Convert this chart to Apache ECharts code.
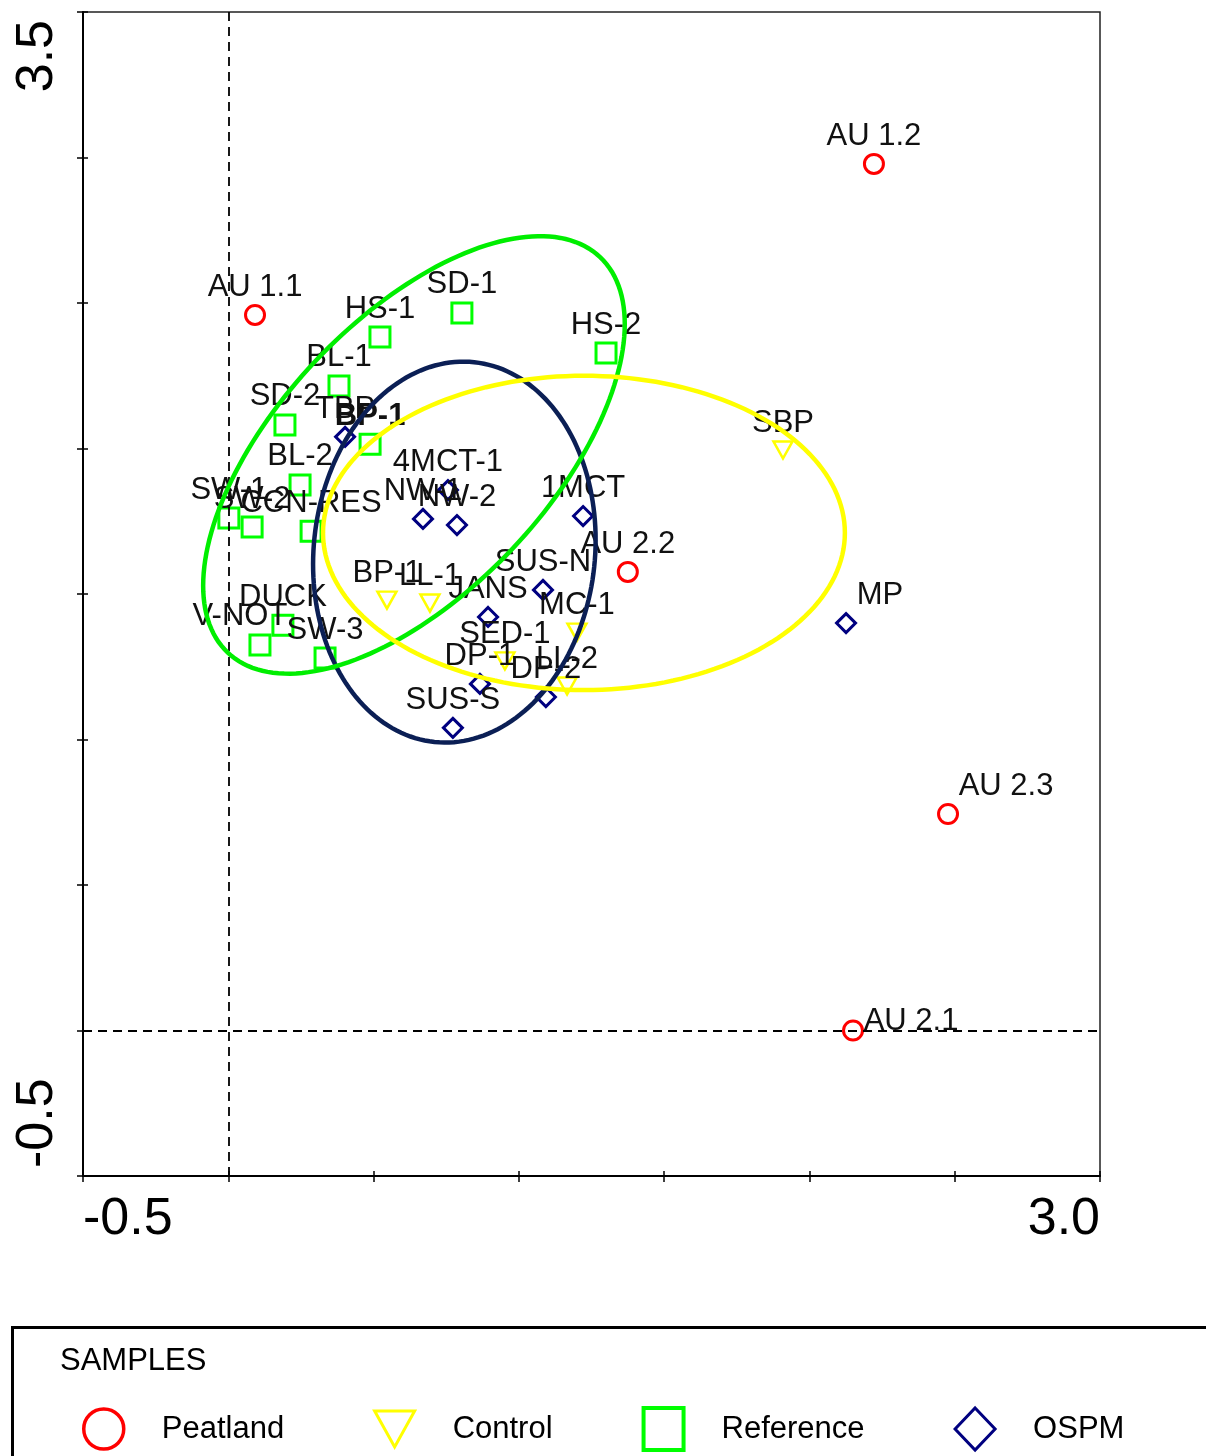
<!DOCTYPE html>
<html>
<head>
<meta charset="utf-8">
<script src="https://cdn.jsdelivr.net/npm/echarts@6/dist/echarts.min.js"></script>
<style>
  html, body { margin: 0; padding: 0; background: #fff; }
  #chart { width: 1206px; height: 1456px; }
</style>
</head>
<body>
<div id="chart"></div>
<script>
// Axis settings and tick labels
const xTickLabels = ['-0.5', '3.0'];
const yTickLabels = ['-0.5', '3.5'];

// Peatland samples
const peatNames = ['AU 1.1', 'AU 1.2', 'AU 2.2', 'AU 2.3', 'AU 2.1'];
const peatX = [0.092, 2.222, 1.375, 2.477, 2.150];
const peatY = [2.459, 2.978, 1.576, 0.744, 0.000];

// Control samples
const ctrlNames = ['SBP', 'BP-1', 'LL-1', 'MC-1', 'SED-1', 'LL-2'];
const ctrlX = [1.909, 0.546, 0.694, 1.200, 0.952, 1.166];
const ctrlY = [1.995, 1.479, 1.469, 1.369, 1.270, 1.184];

// Reference samples
const refNames = ['SD-1', 'HS-1', 'HS-2', 'BL-1', 'SD-2', 'BP-1', 'BL-2', 'SW-1', 'SW-2', 'CCN-RES', 'DUCK', 'V-NOT', 'SW-3'];
const refX = [0.804, 0.522, 1.300, 0.381, 0.195, 0.488, 0.247, 0.002, 0.082, 0.285, 0.188, 0.109, 0.333];
const refY = [2.466, 2.383, 2.328, 2.215, 2.081, 2.015, 1.875, 1.761, 1.730, 1.716, 1.393, 1.325, 1.280];

// OSPM samples
const ospmNames = ['TBP', '4MCT-1', 'NW-1', 'NW-2', '1MCT', 'SUS-N', 'JANS', 'DP-1', 'DP-2', 'SUS-S', 'MP'];
const ospmX = [0.402, 0.756, 0.670, 0.787, 1.221, 1.083, 0.894, 0.866, 1.093, 0.773, 2.126];
const ospmY = [2.040, 1.857, 1.758, 1.737, 1.768, 1.514, 1.421, 1.191, 1.146, 1.040, 1.400];

// Group ellipses (centre, semi-axes and tilt, in axis units / degrees)
const ellipseNames = ['OSPM', 'Reference', 'Control'];
const ellipseCX = [0.778, 0.639, 1.224];
const ellipseCY = [1.644, 1.978, 1.710];
const ellipseA = [0.656, 0.934, 0.898];
const ellipseB = [0.484, 0.468, 0.540];
const ellipseTilt = [84, 46.7, 0];

// Label nudges (pixels) for labels that sit beside their marker
const labelShift = { 'AU 2.3': [58, 0], 'AU 2.1': [58, 18], 'MP': [34, 0], 'V-NOT': [-20, 0] };

const COLORS = { Peatland: '#ff0000', Control: '#ffff00', Reference: '#00ff00', OSPM: '#000080' };
const ELLIPSE_COLORS = { OSPM: '#0b1f55', Reference: '#00ee00', Control: '#ffff00' };
const TRI_DOWN = 'path://M0,0 L20,0 L10,18 Z';
const FONT = 'Arial, "Liberation Sans", sans-serif';

function points(names, xs, ys, boldName) {
  return names.map((n, i) => {
    const item = { name: n, value: [xs[i], ys[i]] };
    if (boldName && n === boldName) item.label = { fontWeight: 'bold' };
    return item;
  });
}

function scatter(name, data, symbol, size, bw) {
  return {
    name, type: 'scatter', data, symbol, symbolSize: size, z: 3,
    itemStyle: { color: 'rgba(0,0,0,0)', borderColor: COLORS[name], borderWidth: bw, opacity: 1 },
    label: {
      show: true, position: 'top', distance: 1,
      formatter: p => p.name, color: '#111', fontSize: 31, fontFamily: FONT
    },
    labelLayout: p => {
      const s = labelShift[data[p.dataIndex].name];
      return s ? { dx: s[0], dy: s[1], hideOverlap: false } : { hideOverlap: false };
    },
    emphasis: { disabled: true }
  };
}

const ellipseSeries = ellipseNames.map((g, k) => ({
  name: g + ' ellipse', type: 'custom', z: 10, silent: true,
  data: [[ellipseCX[k], ellipseCY[k]]],
  renderItem: (params, api) => {
    const t = ellipseTilt[k] * Math.PI / 180;
    const pts = [];
    for (let i = 0; i <= 180; i++) {
      const s = i / 180 * Math.PI * 2;
      const u = ellipseA[k] * Math.cos(s), v = ellipseB[k] * Math.sin(s);
      pts.push(api.coord([
        ellipseCX[k] + u * Math.cos(t) - v * Math.sin(t),
        ellipseCY[k] + u * Math.sin(t) + v * Math.cos(t)
      ]));
    }
    return {
      type: 'polygon', shape: { points: pts },
      style: { fill: 'none', stroke: ELLIPSE_COLORS[g], lineWidth: 4.5 }
    };
  }
}));

// Inner half of the tick marks, so ticks cross the axis lines
const innerTickAxis = (extra) => Object.assign({
  type: 'value', interval: 0.5,
  splitLine: { show: false },
  axisLine: { show: false, onZero: false },
  axisTick: { show: true, inside: true, length: 5, lineStyle: { color: '#000', width: 1.5 } },
  axisLabel: { show: false }
}, extra);

const chart = echarts.init(document.getElementById('chart'), null, { renderer: 'canvas' });

chart.setOption({
  animation: false,
  backgroundColor: '#fff',
  grid: { left: 83, right: 106, top: 12, bottom: 280, show: true, borderColor: '#222', borderWidth: 1.5, containLabel: false },
  xAxis: [{
    type: 'value', min: -0.5, max: 3.0, interval: 0.5,
    splitLine: { show: false },
    axisLine: { onZero: false, lineStyle: { color: '#000', width: 2 } },
    axisTick: { show: true, length: 6, lineStyle: { color: '#000', width: 1.5 } },
    axisLabel: {
      show: true, showMinLabel: true, showMaxLabel: true, hideOverlap: false,
      margin: 18, fontSize: 52, color: '#000', fontFamily: FONT,
      alignMinLabel: 'left', alignMaxLabel: 'right',
      formatter: v => (Math.abs(v + 0.5) < 1e-9 ? xTickLabels[0] : Math.abs(v - 3.0) < 1e-9 ? xTickLabels[1] : '')
    }
  }, innerTickAxis({ min: -0.5, max: 3.0, position: 'bottom' })],
  yAxis: [{
    type: 'value', min: -0.5, max: 3.5, interval: 0.5,
    splitLine: { show: false },
    axisLine: { onZero: false, lineStyle: { color: '#000', width: 2 } },
    axisTick: { show: true, length: 6, lineStyle: { color: '#000', width: 1.5 } },
    axisLabel: {
      show: true, showMinLabel: true, showMaxLabel: true, hideOverlap: false,
      rotate: 90, margin: 19, fontSize: 52, color: '#000', fontFamily: FONT,
      padding: [0, 8, 0, 8],
      alignMinLabel: 'left', alignMaxLabel: 'right',
      formatter: v => (Math.abs(v + 0.5) < 1e-9 ? yTickLabels[0] : Math.abs(v - 3.5) < 1e-9 ? yTickLabels[1] : '')
    }
  }, innerTickAxis({ min: -0.5, max: 3.5, position: 'left' })],
  legend: {
    left: 82, top: 1406, padding: 0, itemGap: 89, itemWidth: 40, itemHeight: 42,
    selectedMode: false,
    textStyle: { fontSize: 31, color: '#000', fontFamily: FONT, padding: [0, 0, 0, 33] },
    data: [
      { name: 'Peatland', icon: 'circle', itemStyle: { color: 'rgba(0,0,0,0)', borderColor: COLORS.Peatland, borderWidth: 3.5 } },
      { name: 'Control', icon: TRI_DOWN, itemStyle: { color: 'rgba(0,0,0,0)', borderColor: COLORS.Control, borderWidth: 3 } },
      { name: 'Reference', icon: 'rect', itemStyle: { color: 'rgba(0,0,0,0)', borderColor: COLORS.Reference, borderWidth: 4 } },
      { name: 'OSPM', icon: 'diamond', itemStyle: { color: 'rgba(0,0,0,0)', borderColor: COLORS.OSPM, borderWidth: 3 } }
    ]
  },
  graphic: [
    { type: 'rect', left: 10, top: 1325, shape: { width: 1300, height: 200 }, style: { fill: 'none', stroke: '#000', lineWidth: 3 }, z: 0 },
    { type: 'text', left: 60, top: 1346, style: { text: 'SAMPLES', fontSize: 31, fontFamily: FONT, fill: '#000' } }
  ],
  series: [
    {
      name: 'origin', type: 'line', data: [], z: 1, silent: true,
      markLine: {
        symbol: 'none', silent: true, label: { show: false },
        lineStyle: { color: '#000', type: [9, 6], width: 1.8 },
        data: [{ xAxis: 0 }, { yAxis: 0 }]
      }
    },
    scatter('Peatland', points(peatNames, peatX, peatY), 'circle', 19, 3),
    scatter('Control', points(ctrlNames, ctrlX, ctrlY), TRI_DOWN, [19, 17], 2.5),
    scatter('Reference', points(refNames, refX, refY, 'BP-1'), 'rect', 20, 3),
    scatter('OSPM', points(ospmNames, ospmX, ospmY), 'diamond', 19, 3),
    ...ellipseSeries
  ]
});
</script>
</body>
</html>
